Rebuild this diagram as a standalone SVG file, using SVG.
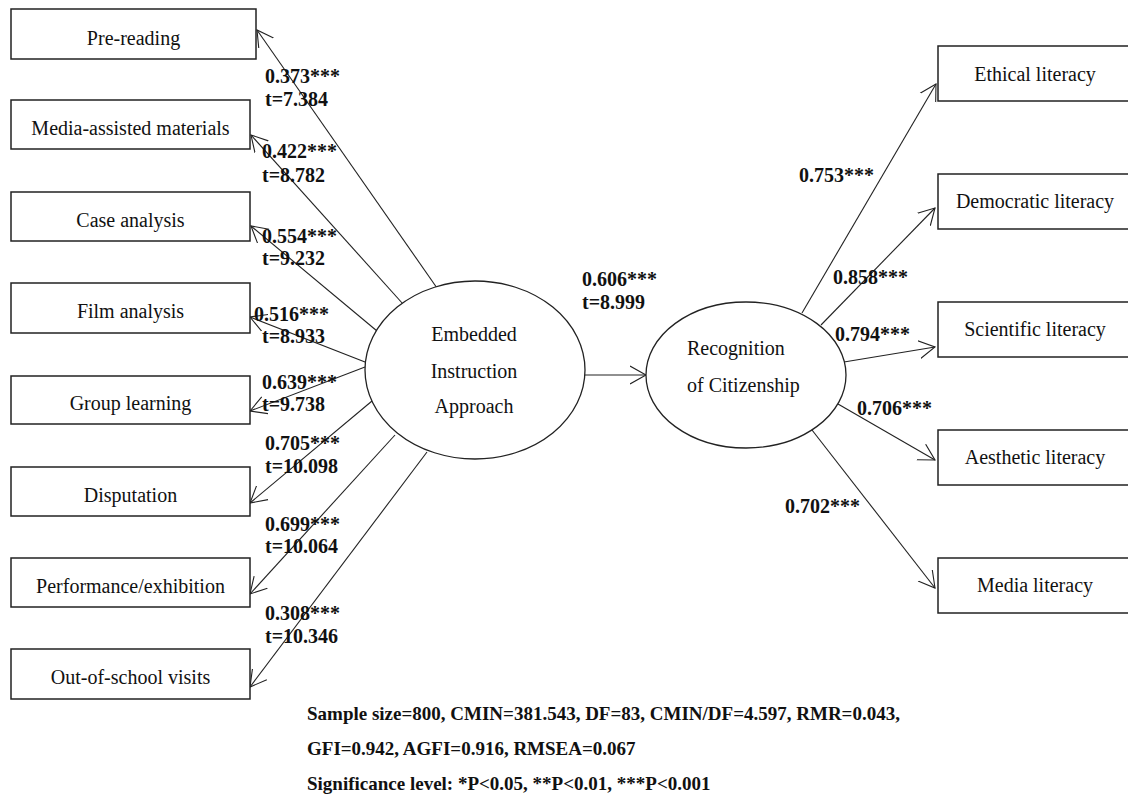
<svg xmlns="http://www.w3.org/2000/svg" width="1128" height="799" viewBox="0 0 1128 799">
<defs>
<style>
.box{fill:#fff;stroke:#222;stroke-width:1.5}
.ell{fill:#fff;stroke:#222;stroke-width:1.3}
.nt{font-family:"Liberation Serif","Times New Roman",serif;font-size:20px;fill:#111}
.lb{font-family:"Liberation Serif","Times New Roman",serif;font-size:20px;font-weight:bold;fill:#111}
.ft{font-family:"Liberation Serif","Times New Roman",serif;font-size:19px;font-weight:bold;fill:#111}
.cn line{stroke:#222;stroke-width:1.1;marker-end:url(#arr)}
</style>
<marker id="arr" markerUnits="userSpaceOnUse" markerWidth="18" markerHeight="20" refX="16" refY="9" orient="auto" viewBox="0 0 18 18">
<path d="M0,0 L16,9 L0,18" fill="none" stroke="#222" stroke-width="1.1"/>
</marker>
</defs>
<rect width="1128" height="799" fill="#fff"/>

<g id="connectors" class="cn">
<line x1="437" y1="288" x2="257" y2="30"/>
<line x1="403" y1="304" x2="251" y2="135"/>
<line x1="377" y1="331" x2="251" y2="226"/>
<line x1="365" y1="362" x2="250" y2="317"/>
<line x1="365" y1="367" x2="250" y2="411"/>
<line x1="372" y1="401" x2="250" y2="503"/>
<line x1="395" y1="435" x2="250" y2="594"/>
<line x1="427" y1="452" x2="250" y2="687"/>
<line x1="585" y1="375" x2="646" y2="375"/>
<line x1="802" y1="313" x2="936" y2="84"/>
<line x1="821" y1="325" x2="935" y2="208"/>
<line x1="844" y1="362" x2="935" y2="347"/>
<line x1="838" y1="404" x2="935" y2="460"/>
<line x1="812" y1="430" x2="935" y2="588"/>
</g>

<g id="n-prereading"><rect class="box" x="11" y="9" width="245" height="50"/><text class="nt" x="133.5" y="45" text-anchor="middle">Pre-reading</text></g>
<g id="n-media-assisted"><rect class="box" x="11" y="100" width="239" height="49"/><text class="nt" x="130.5" y="135" text-anchor="middle">Media-assisted materials</text></g>
<g id="n-case"><rect class="box" x="11" y="192" width="239" height="49"/><text class="nt" x="130.5" y="227" text-anchor="middle">Case analysis</text></g>
<g id="n-film"><rect class="box" x="11" y="283" width="239" height="50"/><text class="nt" x="130.5" y="318" text-anchor="middle">Film analysis</text></g>
<g id="n-group"><rect class="box" x="11" y="376" width="239" height="48"/><text class="nt" x="130.5" y="410" text-anchor="middle">Group learning</text></g>
<g id="n-disputation"><rect class="box" x="11" y="467" width="239" height="49"/><text class="nt" x="130.5" y="502" text-anchor="middle">Disputation</text></g>
<g id="n-performance"><rect class="box" x="11" y="558" width="239" height="49"/><text class="nt" x="130.5" y="593" text-anchor="middle">Performance/exhibition</text></g>
<g id="n-outofschool"><rect class="box" x="11" y="649" width="239" height="50"/><text class="nt" x="130.5" y="684" text-anchor="middle">Out-of-school visits</text></g>

<g id="n-embedded"><ellipse class="ell" cx="475" cy="370" rx="110" ry="89"/>
<text class="nt" x="474" y="341" text-anchor="middle">Embedded</text>
<text class="nt" x="474" y="378" text-anchor="middle">Instruction</text>
<text class="nt" x="474" y="413" text-anchor="middle">Approach</text></g>

<g id="n-recognition"><ellipse class="ell" cx="746" cy="375" rx="100" ry="73"/>
<text class="nt" x="687" y="355">Recognition</text>
<text class="nt" x="687" y="392">of Citizenship</text></g>

<g id="n-ethical"><rect class="box" x="938" y="46" width="195" height="55"/><text class="nt" x="1035" y="81" text-anchor="middle">Ethical literacy</text></g>
<g id="n-democratic"><rect class="box" x="938" y="174" width="195" height="55"/><text class="nt" x="1035" y="208" text-anchor="middle">Democratic literacy</text></g>
<g id="n-scientific"><rect class="box" x="938" y="302" width="195" height="55"/><text class="nt" x="1035" y="336" text-anchor="middle">Scientific literacy</text></g>
<g id="n-aesthetic"><rect class="box" x="938" y="430" width="195" height="55"/><text class="nt" x="1035" y="464" text-anchor="middle">Aesthetic literacy</text></g>
<g id="n-medialit"><rect class="box" x="938" y="558" width="195" height="55"/><text class="nt" x="1035" y="592" text-anchor="middle">Media literacy</text></g>

<g id="labels">
<text class="lb" x="265" y="83">0.373***</text><text class="lb" x="265" y="106">t=7.384</text>
<text class="lb" x="262" y="158">0.422***</text><text class="lb" x="262" y="182">t=8.782</text>
<text class="lb" x="262" y="243">0.554***</text><text class="lb" x="262" y="265">t=9.232</text>
<text class="lb" x="254" y="321">0.516***</text><text class="lb" x="262" y="343">t=8.933</text>
<text class="lb" x="262" y="389">0.639***</text><text class="lb" x="262" y="411">t=9.738</text>
<text class="lb" x="265" y="450">0.705***</text><text class="lb" x="265" y="473">t=10.098</text>
<text class="lb" x="265" y="531">0.699***</text><text class="lb" x="265" y="553">t=10.064</text>
<text class="lb" x="265" y="620">0.308***</text><text class="lb" x="265" y="643">t=10.346</text>
<text class="lb" x="582" y="286">0.606***</text><text class="lb" x="582" y="309">t=8.999</text>
<text class="lb" x="799" y="182">0.753***</text>
<text class="lb" x="833" y="284">0.858***</text>
<text class="lb" x="835" y="341">0.794***</text>
<text class="lb" x="857" y="415">0.706***</text>
<text class="lb" x="785" y="513">0.702***</text>
</g>

<g id="fit">
<text class="ft" x="307" y="720">Sample size=800, CMIN=381.543, DF=83, CMIN/DF=4.597, RMR=0.043,</text>
<text class="ft" x="307" y="755">GFI=0.942, AGFI=0.916, RMSEA=0.067</text>
<text class="ft" x="307" y="790">Significance level: *P&lt;0.05, **P&lt;0.01, ***P&lt;0.001</text>
</g>
</svg>
